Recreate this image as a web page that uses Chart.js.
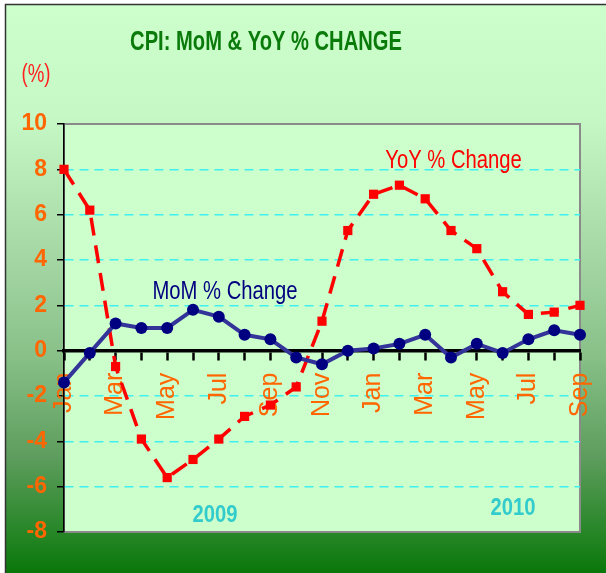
<!DOCTYPE html>
<html>
<head>
<meta charset="utf-8">
<script src="https://cdn.jsdelivr.net/npm/chart.js@4.4.1/dist/chart.umd.min.js"></script>
<style>
  html, body { margin: 0; padding: 0; background: #fff; }
  #wrap { width: 606px; height: 573px; }
</style>
</head>
<body>
<div id="wrap"><canvas id="cpi" width="606" height="573"></canvas></div>
<script>
const months = [
  "Jan", "Feb", "Mar", "Apr", "May", "Jun", "Jul", "Aug", "Sep", "Oct", "Nov", "Dec",
  "Jan", "Feb", "Mar", "Apr", "May", "Jun", "Jul", "Aug", "Sep",
];
const momChange = [-1.4, -0.1, 1.2, 1.0, 1.0, 1.8, 1.5, 0.7, 0.5, -0.3, -0.6, 0.0,
  0.1, 0.3, 0.7, -0.3, 0.3, -0.1, 0.5, 0.9, 0.7];
const yoyChange = [8.0, 6.2, -0.7, -3.9, -5.6, -4.8, -3.9, -2.9, -2.4, -1.6, 1.3, 5.3,
  6.9, 7.3, 6.7, 5.3, 4.5, 2.6, 1.6, 1.7, 2.0];
const yMin = -8;
const yMax = 10;
const yStep = 2;

const FONT = "'Liberation Sans', Arial, sans-serif";

// the original uses a narrow face; squeeze the free text horizontally
function squeezedText(ctx, text, cx, cy, sx) {
  ctx.save();
  ctx.translate(cx, cy);
  ctx.scale(sx, 1);
  ctx.fillText(text, 0, 0);
  ctx.restore();
}

const backdrop = {
  id: "backdrop",
  beforeDraw(chart) {
    const { ctx, chartArea: a, width, height } = chart;
    ctx.save();
    ctx.fillStyle = "#fff";
    ctx.fillRect(0, 0, width, height);
    const g = ctx.createLinearGradient(0, 4, 0, height);
    g.addColorStop(0, "#ccffcc");
    g.addColorStop(0.2, "#c6f8c6");
    g.addColorStop(0.45, "#a4d6a4");
    g.addColorStop(0.62, "#88c088");
    g.addColorStop(0.8, "#5c9c5c");
    g.addColorStop(0.93, "#268626");
    g.addColorStop(1, "#0a770a");
    ctx.fillStyle = g;
    ctx.fillRect(5, 4, width - 5, height - 4);
    ctx.strokeStyle = "#333";
    ctx.lineWidth = 1.5;
    ctx.beginPath();
    ctx.moveTo(5.5, height);
    ctx.lineTo(5.5, 4.5);
    ctx.lineTo(width, 4.5);
    ctx.stroke();
    ctx.fillStyle = "#ccffcc";
    ctx.fillRect(a.left, a.top, a.width, a.height);
    ctx.strokeStyle = "#8a8a8a";
    ctx.lineWidth = 2;
    ctx.strokeRect(a.left, a.top, a.width, a.height);
    ctx.restore();
  },
  afterDraw(chart) {
    const { ctx } = chart;
    const x = chart.scales.x;
    const y = chart.scales.y;
    ctx.save();
    ctx.textAlign = "center";
    ctx.textBaseline = "middle";

    ctx.fillStyle = "#0a7a0a";
    ctx.font = "bold 28px " + FONT;
    squeezedText(ctx, "CPI: MoM & YoY % CHANGE", 266, 42, 0.72);

    ctx.fillStyle = "#ff2020";
    ctx.font = "26px " + FONT;
    squeezedText(ctx, "(%)", 36, 75, 0.72);

    ctx.font = "25px " + FONT;
    ctx.fillStyle = "#000080";
    squeezedText(ctx, "MoM % Change", x.getPixelForValue(6.24), y.getPixelForValue(2.6), 0.81);
    ctx.fillStyle = "#ff0000";
    squeezedText(ctx, "YoY % Change", x.getPixelForValue(15.1), y.getPixelForValue(8.35), 0.81);

    ctx.fillStyle = "#33cccc";
    ctx.font = "bold 23px " + FONT;
    squeezedText(ctx, "2009", x.getPixelForValue(5.85), y.getPixelForValue(-7.3), 0.88);
    squeezedText(ctx, "2010", x.getPixelForValue(17.4), y.getPixelForValue(-6.95), 0.88);
    ctx.restore();
  },
};

new Chart(document.getElementById("cpi"), {
  type: "line",
  data: {
    labels: months,
    datasets: [
      {
        label: "MoM % Change",
        data: momChange,
        borderColor: "#333399",
        borderWidth: 4,
        pointRadius: 6,
        pointBackgroundColor: "#000080",
        pointBorderColor: "#000080",
        pointBorderWidth: 0,
        tension: 0,
        clip: false,
      },
      {
        label: "YoY % Change",
        data: yoyChange,
        borderColor: "#ff0000",
        borderWidth: 3.5,
        borderDash: [18, 10],
        pointStyle: "rect",
        pointRadius: 6.5,
        pointBackgroundColor: "#ff0000",
        pointBorderColor: "#ff0000",
        pointBorderWidth: 0,
        tension: 0,
        clip: false,
      },
    ],
  },
  options: {
    responsive: false,
    animation: false,
    layout: { padding: { left: 0, top: 124, right: 26, bottom: 41 } },
    plugins: {
      legend: { display: false },
      tooltip: { enabled: false },
    },
    scales: {
      x: {
        position: { y: 0 },
        offset: false,
        // axis sits on the zero line, so it should not take any layout room
        afterFit: (scale) => {
          scale.height = 0;
          scale.paddingLeft = 0;
          scale.paddingRight = 0;
        },
        grid: { drawOnChartArea: false, tickLength: 8, tickColor: "#000", tickWidth: 2.5 },
        border: { color: "#000", width: 3.5 },
        ticks: {
          autoSkip: false,
          minRotation: 90,
          maxRotation: 90,
          padding: 14,
          color: "#ff6600",
          font: { family: FONT, size: 25 },
          callback: (v, i) => (i % 2 === 0 ? months[i] : ""),
        },
      },
      y: {
        min: yMin,
        max: yMax,
        afterFit: (scale) => { scale.width = 64; },
        grid: {
          color: (c) => ([0, yMin, yMax].includes(c.tick.value) ? "rgba(0,0,0,0)" : "#3ff0f0"),
          lineWidth: 1.5,
          tickLength: 7,
          tickColor: "#000",
          tickWidth: 1.5,
        },
        border: { color: "#000", width: 1.5, dash: [9, 6] },
        ticks: {
          stepSize: yStep,
          padding: 10,
          color: "#ff6600",
          font: { family: FONT, size: 23, weight: "bold" },
        },
      },
    },
  },
  plugins: [backdrop],
});
</script>
</body>
</html>
